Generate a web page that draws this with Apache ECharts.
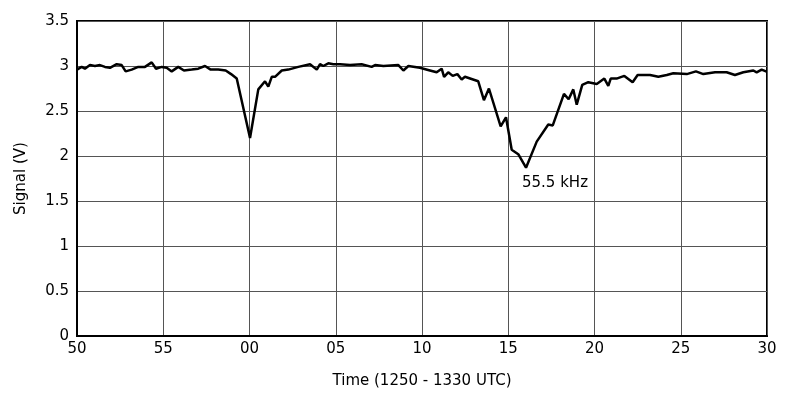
<!DOCTYPE html>
<html>
<head>
<meta charset="utf-8">
<script src="https://cdn.jsdelivr.net/npm/echarts@6/dist/echarts.min.js"></script>
<style>
  html, body { margin: 0; padding: 0; background: #fff; }
  #chart { width: 788px; height: 394px; }
</style>
</head>
<body>
<div id="chart"></div>
<script>
// Minutes elapsed since 12:50 UTC
const minutes = [
  0, 0.27, 0.46, 0.75, 1.04, 1.33, 1.62, 1.91, 2.30, 2.59, 2.82, 3.17, 3.55, 3.94,
  4.33, 4.58, 4.91, 5.20, 5.49, 5.87, 6.20, 6.65, 7.03, 7.42, 7.75, 8.19, 8.62,
  8.93, 9.26, 10.03, 10.51, 10.90, 11.09, 11.29, 11.48, 11.87, 12.25, 12.83, 13.51,
  13.90, 14.09, 14.28, 14.57, 14.86, 15.25, 15.83, 16.50, 17.08, 17.28, 17.76,
  18.63, 18.92, 19.21, 19.88, 20.46, 20.85, 21.14, 21.28, 21.52, 21.78, 22.05,
  22.30, 22.49, 23.26, 23.59, 23.88, 24.56, 24.87, 25.20, 25.58, 26.03, 26.65,
  27.32, 27.58, 28.23, 28.50, 28.77, 28.97, 29.29, 29.64, 30.13, 30.57, 30.80,
  30.94, 31.28, 31.73, 32.21, 32.50, 33.22, 33.70, 34.19, 34.57, 35.35, 35.88,
  36.31, 36.99, 37.66, 38.14, 38.63, 39.21, 39.40, 39.69, 39.94, 40
];

// Received signal level (V)
const signal = [
  2.96, 2.99, 2.97, 3.01, 3.00, 3.01, 2.99, 2.98, 3.02, 3.01, 2.94, 2.96, 2.99, 2.99,
  3.04, 2.97, 2.99, 2.98, 2.94, 2.99, 2.95, 2.96, 2.97, 3.00, 2.96, 2.96, 2.95,
  2.91, 2.86, 2.20, 2.74, 2.83, 2.77, 2.88, 2.88, 2.95, 2.96, 2.99, 3.02,
  2.96, 3.02, 3.00, 3.03, 3.02, 3.02, 3.01, 3.02, 2.99, 3.01, 3.00,
  3.01, 2.95, 3.00, 2.98, 2.95, 2.93, 2.97, 2.88, 2.93, 2.89, 2.91,
  2.85, 2.88, 2.83, 2.62, 2.75, 2.33, 2.43, 2.07, 2.02, 1.87, 2.16,
  2.35, 2.34, 2.69, 2.63, 2.74, 2.57, 2.79, 2.82, 2.80, 2.86, 2.78,
  2.86, 2.86, 2.89, 2.82, 2.90, 2.90, 2.88, 2.90, 2.92, 2.91, 2.94,
  2.91, 2.93, 2.93, 2.90, 2.93, 2.95, 2.93, 2.96, 2.94, 2.94
];

// Clock-minute labels for each 5-minute tick
const timeTicks = ['50', '55', '00', '05', '10', '15', '20', '25', '30'];

// Annotated dip
const dipLabel = '55.5 kHz';
const dipIndex = 70;

const font = 'DejaVu Sans';
const chart = echarts.init(document.getElementById('chart'), null, { renderer: 'canvas' });

chart.setOption({
  animation: false,
  backgroundColor: '#fff',
  grid: {
    left: 77, right: 21, top: 21, bottom: 57,
    show: true, borderColor: '#000', borderWidth: 2, backgroundColor: 'transparent'
  },
  xAxis: {
    type: 'value', min: 0, max: 40, interval: 5,
    name: 'Time (1250 - 1330 UTC)', nameLocation: 'middle', nameGap: 38,
    nameTextStyle: { fontFamily: font, fontSize: 15, color: '#000' },
    axisLine: { show: true, lineStyle: { color: '#000', width: 2 } },
    axisTick: { show: false },
    axisLabel: {
      fontFamily: font, fontSize: 15, color: '#000', margin: 6,
      formatter: v => timeTicks[Math.round(v / 5)]
    },
    splitLine: { show: true, lineStyle: { color: '#555', width: 1 } }
  },
  yAxis: {
    type: 'value', min: 0, max: 3.5, interval: 0.5,
    name: 'Signal (V)', nameLocation: 'middle', nameGap: 48, nameRotate: 90,
    nameTextStyle: { fontFamily: font, fontSize: 15, color: '#000' },
    axisLine: { show: true, lineStyle: { color: '#000', width: 2 } },
    axisTick: { show: false },
    axisLabel: { fontFamily: font, fontSize: 15, color: '#000', margin: 8 },
    splitLine: { show: true, lineStyle: { color: '#555', width: 1 } }
  },
  series: [{
    type: 'line',
    data: minutes.map((m, i) => [m, signal[i]]),
    showSymbol: false,
    lineStyle: { color: '#000', width: 2.5 },
    markPoint: {
      symbol: 'circle', symbolSize: 0,
      data: [{ coord: [minutes[dipIndex], signal[dipIndex]] }],
      label: {
        show: true, formatter: dipLabel, position: 'inside',
        offset: [29, 15], fontFamily: font, fontSize: 15, color: '#000'
      }
    }
  }]
});
</script>
</body>
</html>
